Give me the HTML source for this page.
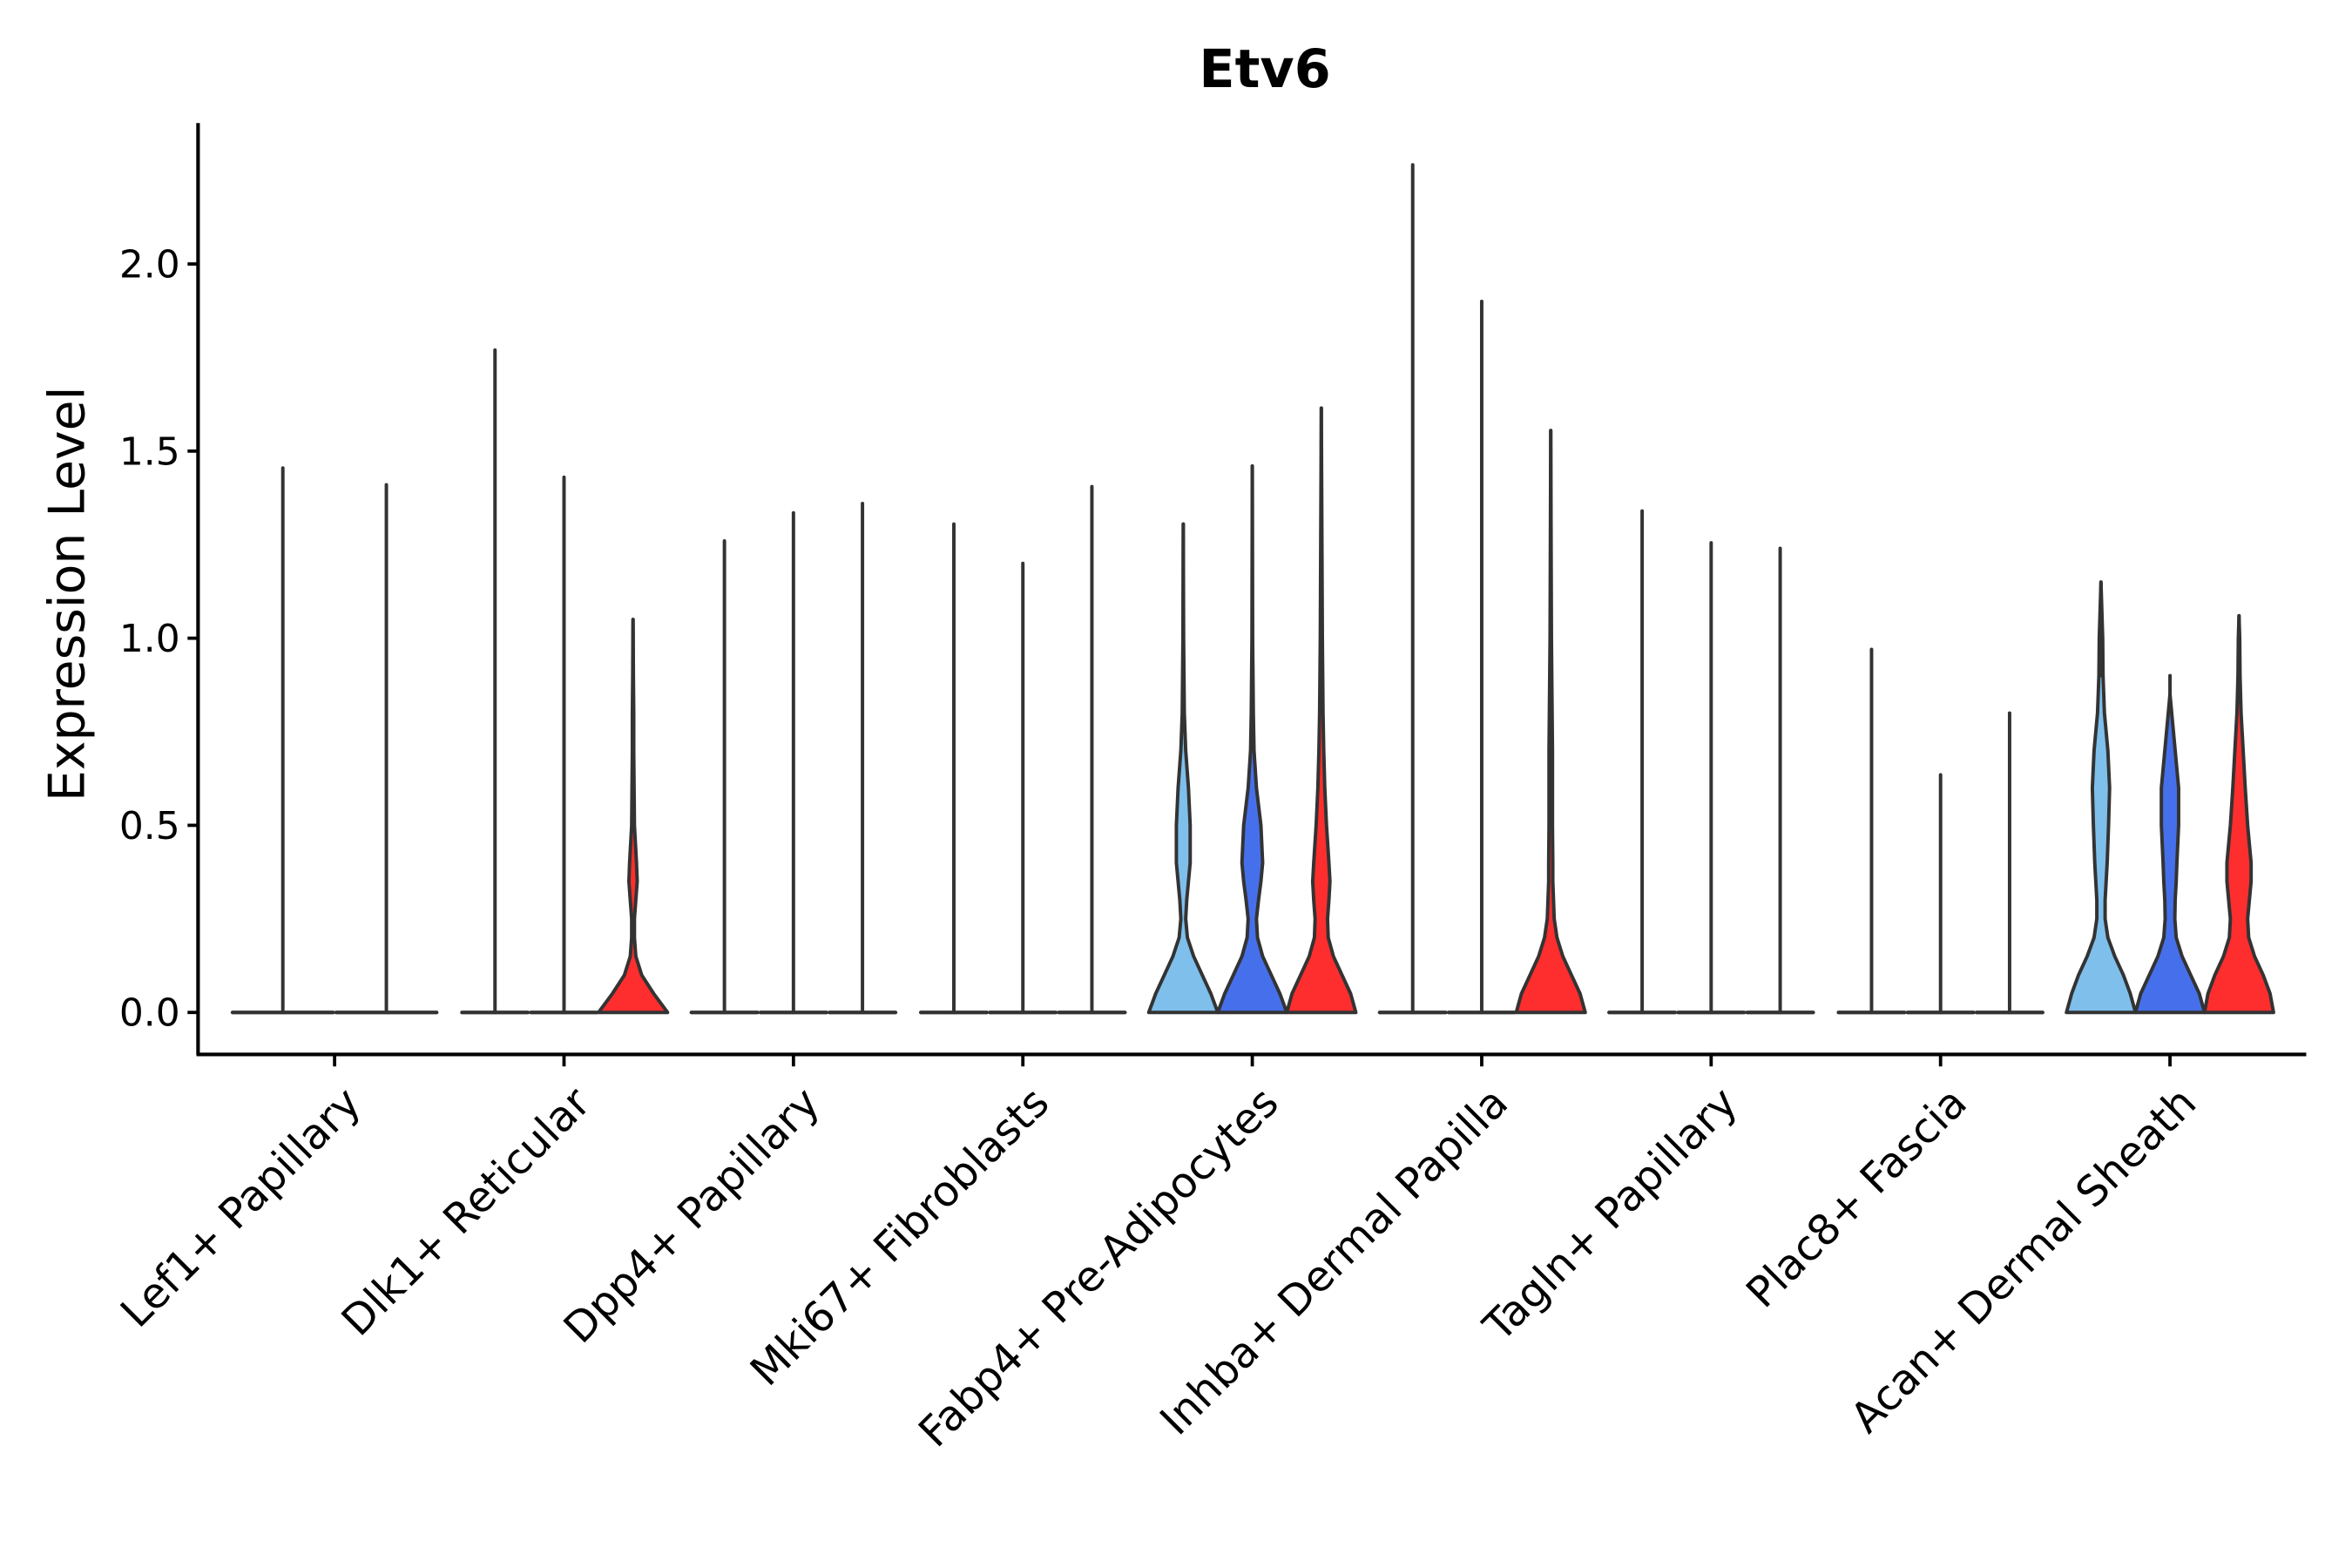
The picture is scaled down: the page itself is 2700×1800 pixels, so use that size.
<!DOCTYPE html>
<html><head><meta charset="utf-8"><style>
html,body{margin:0;padding:0;background:#fff}
svg{display:block}
text{font-family:"DejaVu Sans","Liberation Sans",sans-serif;fill:#000}
</style></head><body>
<svg id="chart" width="2700" height="1800" viewBox="0 0 1567.5 1045.4" preserveAspectRatio="none" xmlns="http://www.w3.org/2000/svg">
<text x="843" y="58" text-anchor="middle" font-size="35" font-weight="bold">Etv6</text>
<text transform="translate(56,396) rotate(-90)" text-anchor="middle" font-size="33">Expression Level</text>
<g id="plot"></g>
<line x1="132" y1="82" x2="132" y2="703.5" stroke="#000" stroke-width="2.4"/>
<line x1="131" y1="703" x2="1537" y2="703" stroke="#000" stroke-width="2.4"/>
</svg>
<script>
const categories=["Lef1+ Papillary","Dlk1+ Reticular","Dpp4+ Papillary","Mki67+ Fibroblasts","Fabp4+ Pre-Adipocytes","Inhba+ Dermal Papilla","Tagln+ Papillary","Plac8+ Fascia","Acan+ Dermal Sheath"];
const groupColors=["#7fbfec","#4670eb","#ff2e2e"];
const yTicks=[0,0.5,1.0,1.5,2.0];
const yTickLabels=["0.0","0.5","1.0","1.5","2.0"];
// max expression per category, per group (null = group absent)
const maxLef1=[1.455,null,1.41];
const maxDlk1=[1.77,1.43,1.05];
const maxDpp4=[1.26,1.335,1.36];
const maxMki67=[1.305,1.20,1.405];
const maxFabp4=[1.305,1.46,1.615];
const maxInhba=[2.265,1.90,1.555];
const maxTagln=[1.34,1.255,1.24];
const maxPlac8=[0.97,0.635,0.80];
const maxAcan=[1.15,0.85,1.06];
const maxValues=[maxLef1,maxDlk1,maxDpp4,maxMki67,maxFabp4,maxInhba,maxTagln,maxPlac8,maxAcan];
// density grid levels and relative half-widths
const densLevels=[0,0.05,0.1,0.15,0.2,0.25,0.3,0.35,0.4,0.5,0.6,0.7,0.8,0.9,1.0];
const densDlk1Red=[1,0.6,0.25,0.08,0.04,0.04,0.08,0.12,0.1,0.04,0.03,0.02,0.02,0.01,0.005];
const densFabp4LB=[1,0.8,0.55,0.3,0.12,0.07,0.1,0.15,0.2,0.2,0.15,0.07,0.03,0.02,0.01];
const densFabp4Blue=[1,0.8,0.55,0.3,0.15,0.12,0.18,0.25,0.3,0.25,0.12,0.05,0.03,0.02,0.01];
const densFabp4Red=[1,0.85,0.6,0.35,0.2,0.18,0.22,0.25,0.22,0.15,0.1,0.07,0.05,0.04,0.03];
const densInhbaRed=[1,0.85,0.6,0.35,0.18,0.1,0.08,0.06,0.06,0.05,0.05,0.05,0.04,0.03,0.02];
const densAcanLB=[1,0.85,0.65,0.4,0.2,0.12,0.12,0.15,0.18,0.22,0.25,0.2,0.1,0.06,0.05];
const densAcanBlue=[1,0.85,0.6,0.35,0.18,0.14,0.15,0.18,0.2,0.25,0.25,0.15,0.05,0.02,0.01];
const densAcanRed=[1,0.9,0.7,0.45,0.28,0.25,0.3,0.35,0.35,0.25,0.18,0.12,0.06,0.03,0.02];
const densities=[[null,null,null],[null,null,densDlk1Red],[null,null,null],[null,null,null],
 [densFabp4LB,densFabp4Blue,densFabp4Red],[null,null,densInhbaRed],[null,null,null],[null,null,null],
 [densAcanLB,densAcanBlue,densAcanRed]];

const NS="http://www.w3.org/2000/svg";
const svg=document.getElementById('chart');
const plot=document.getElementById('plot');
function yScale(v){return 675-v*249.5;}
function xScale(i){return 223+i*152.9;}
function mk(tag,attrs,parent){const e=document.createElementNS(NS,tag);for(const k in attrs)e.setAttribute(k,attrs[k]);(parent||svg).appendChild(e);return e;}

yTicks.forEach((t,i)=>{
  const tk=mk('line',{x1:125,x2:132,y1:yScale(t),y2:yScale(t),stroke:'#000','stroke-width':2.2});
  
  
  const lb=mk('text',{x:120,y:yScale(t)+9,'text-anchor':'end','font-size':25.5});
  lb.textContent=yTickLabels[i];
  
  
});

const band=138;
categories.forEach((c,i)=>{
  const cx=xScale(i);
  const tk=mk('line',{x1:cx,x2:cx,y1:703,y2:711,stroke:'#000','stroke-width':2.2});
  
  
  const lb=mk('text',{transform:`translate(${cx+12},${730}) rotate(-45)`,'text-anchor':'end','font-size':28,dy:'0.35em'});
  lb.textContent=c;
  
  
  const present=[0,1,2].filter(g=>maxValues[i][g]!==null);
  const n=present.length, w=band/n;
  present.forEach((g,k)=>{
    const vx=cx-band/2+w*(k+0.5);
    const hw=w/2;
    const mx=maxValues[i][g];
    const d=densities[i][g];
    const grp=mk('g',{},plot);
    
    
    if(d){
      const lv=[],wv=[];
      densLevels.forEach((L,j)=>{if(L<mx){lv.push(L);wv.push(d[j]);}});
      lv.push(mx);wv.push(0);
      let right=[],left=[];
      lv.forEach((L,j)=>{right.push([vx+wv[j]*hw,yScale(L)]);left.push([vx-wv[j]*hw,yScale(L)]);});
      const pts=right.concat(left.reverse());
      let p='M'+pts.map(q=>q[0].toFixed(2)+','+q[1].toFixed(2)).join(' L')+' Z';
      mk('path',{d:p,fill:groupColors[g],stroke:'#333','stroke-width':2.3,'stroke-linejoin':'round'},grp);
      mk('line',{x1:vx,x2:vx,y1:yScale(0.9),y2:yScale(mx),stroke:'#333','stroke-width':2.3,'stroke-linecap':'round'},grp);
    } else {
      mk('line',{x1:vx-hw+1,x2:vx+hw-1,y1:yScale(0),y2:yScale(0),stroke:'#333','stroke-width':2.5,'stroke-linecap':'round'},grp);
      mk('line',{x1:vx,x2:vx,y1:yScale(0),y2:yScale(mx),stroke:'#333','stroke-width':2.3,'stroke-linecap':'round'},grp);
    }
  });
});
</script>
</body></html>
